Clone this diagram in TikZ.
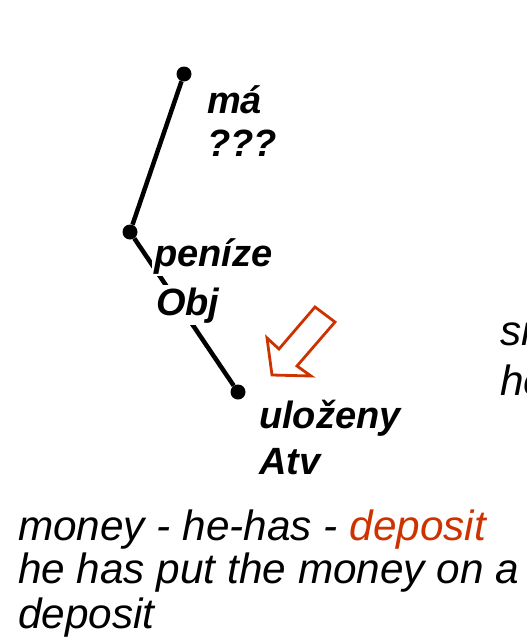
\documentclass[tikz,border=0pt]{standalone}
\usepackage{fontspec}
\setmainfont{Liberation Sans}
\definecolor{accent}{HTML}{CC3300}
\begin{document}
\begin{tikzpicture}[x=1pt,y=-1pt,
  treelbl/.style={font=\fontsize{38}{38}\selectfont\bfseries\itshape, anchor=base west, inner sep=0pt},
  treelblbg/.style={treelbl, fill=white, inner sep=2pt},
  bodytxt/.style={font=\fontsize{42.3}{42.3}\selectfont\itshape, anchor=base west, inner sep=0pt},
  dot/.style={circle, fill=black, inner sep=0pt, minimum size=15pt},
  edge/.style={line width=4.5pt},
  hollowarrow/.style={draw=accent, line width=2.8pt, line join=miter}]
\useasboundingbox (0,0) rectangle (527,643);
\begin{scope}
\clip (0,0) rectangle (527,643);
% tree
\node[dot] (top) at (184,74) {};
\node[dot] (mid) at (130,232) {};
\node[dot] (bot) at (238,392) {};
\draw[edge] (top) -- (mid);
\draw[edge] (mid) -- (bot);
\node[treelbl] (ma) at (207,113) {má};
\node[treelbl] (qqq) at (207,156) {???};
\node[treelblbg] (penize) at (152,266) {peníze};
\node[treelblbg] (obj) at (154,315) {Obj};
\node[treelbl] (ulozeny) at (259,428) {uloženy};
\node[treelbl] (atv) at (259,474) {Atv};
% hollow arrow
\coordinate (tip) at (272,375);
\draw[hollowarrow] (tip) -- (311,376) -- (297,366) -- (335,322) -- (315,307) -- (279,349) -- (267,338) -- cycle;
% partial right text
\node[bodytxt] (s1) at (500,345) {sn};
\node[bodytxt] (s2) at (500,395) {he};
% bottom text
\node[bodytxt] (l1) at (18,540) {money - he-has - \textcolor{accent}{deposit}};
\node[bodytxt] (l2) at (18,583) {he has put the money on a};
\node[bodytxt] (l3) at (18,628) {deposit};
\end{scope}
\end{tikzpicture}
\end{document}
